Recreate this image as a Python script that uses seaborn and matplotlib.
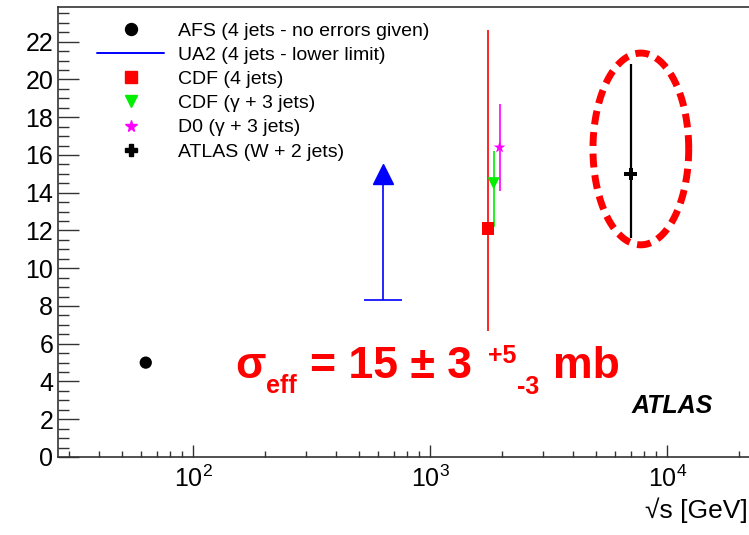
import numpy as np
import pandas as pd
import matplotlib
matplotlib.use("Agg")
import matplotlib.pyplot as plt
from matplotlib.lines import Line2D
import seaborn as sns

# ---- measurements of the effective cross section sigma_eff ----
labels = ["AFS (4 jets - no errors given)", "UA2 (4 jets - lower limit)", "CDF (4 jets)",
          "CDF (\u03b3 + 3 jets)", "D0 (\u03b3 + 3 jets)", "ATLAS (W + 2 jets)"]
sqrt_s = [63.0, 630.0, 1750.0, 1850.0, 1960.0, 7000.0]          # GeV
sigma = [5.0, 8.3, 12.1, 14.5, 16.4, 15.0]                     # mb
err_up = [0.0, 0.0, 10.5, 1.7, 2.3, 5.8]
err_down = [0.0, 0.0, 5.4, 2.3, 2.3, 3.4]
ua2_arrow_tip = 15.0                                            # arrow head of the UA2 limit
colors = ["black", "blue", "#ff0000", "#00ee00", "#ff00ff", "black"]
markers = ["o", "^", "s", "v", "*", "P"]

# ellipse around the ATLAS point (centre in GeV/mb, half axes in decades/mb)
ell_center = (7730.0, 16.32)
ell_half_decades = 0.202
ell_half_height = 5.08

W, H, DPI = 749, 535, 100
sns.set_theme(style="white")
plt.rcParams["font.family"] = ["Liberation Sans", "DejaVu Sans"]
plt.rcParams["mathtext.fontset"] = "custom"
plt.rcParams["mathtext.rm"] = "Liberation Sans"
plt.rcParams["text.color"] = "black"
plt.rcParams["xtick.bottom"] = True
plt.rcParams["ytick.left"] = True

fig = plt.figure(figsize=(W / DPI, H / DPI), dpi=DPI)
fig.patch.set_facecolor("white")
ax = fig.add_axes([58 / W, (H - 457) / H, (760 - 58) / W, 450 / H])
ax.set_facecolor("white")

df = pd.DataFrame({"sqrt_s": sqrt_s, "sigma": sigma, "label": labels,
                   "up": err_up, "down": err_down})

# error bars
for i, row in df.iterrows():
    if row["up"] > 0 or row["down"] > 0:
        ax.vlines(row["sqrt_s"], row["sigma"] - row["down"], row["sigma"] + row["up"],
                  colors=colors[i], linewidth=1.6 if i == 5 else 1.2, zorder=2)

# UA2 lower limit: bar at the limit plus an arrow
ua2 = 1
ax.vlines(sqrt_s[ua2], sigma[ua2], ua2_arrow_tip, colors="blue", linewidth=1.2, zorder=2)
ax.hlines(sigma[ua2], sqrt_s[ua2] / 1.2, sqrt_s[ua2] * 1.2, colors="blue", linewidth=1.2, zorder=2)
ax.plot([sqrt_s[ua2]], [ua2_arrow_tip], marker="^", markersize=14, color="blue",
        linestyle="none", zorder=3)

# measured points
pts = df.drop(index=ua2)
sns.scatterplot(data=pts, x="sqrt_s", y="sigma", hue="label", style="label",
                palette={l: c for l, c in zip(labels, colors)},
                markers={l: m for l, m in zip(labels, markers)},
                s=78, edgecolor="none", linewidth=0, legend=False, ax=ax, zorder=4)

# dashed ellipse highlighting the ATLAS result
t = np.linspace(0, 2 * np.pi, 400)
ex = 10 ** (np.log10(ell_center[0]) + ell_half_decades * np.cos(t))
ey = ell_center[1] + ell_half_height * np.sin(t)
ax.plot(ex, ey, color="#ff0000", linewidth=5.0, dashes=(2.0, 1.1),
        solid_capstyle="butt", dash_capstyle="butt", zorder=5)

# axes
ax.set_xscale("log")
ax.set_xlim(26.86, 24600)
ax.set_ylim(0, 23.84)
ax.set_yticks(np.arange(0, 23, 2))
ax.set_yticks(np.arange(0, 23.84, 0.5), minor=True)
ax.set_xticks([1e2, 1e3, 1e4])
ax.set_xticks([v * 10 ** d for d in range(1, 5) for v in range(2, 10)
               if 26.86 <= v * 10 ** d <= 24600], minor=True)
ax.set_xticklabels([r"$10^{2}$", r"$10^{3}$", r"$10^{4}$"])
ax.tick_params(axis="y", which="both", left=True, right=False)
ax.tick_params(axis="x", which="both", bottom=True, top=False)
ax.tick_params(axis="y", which="major", direction="in", length=15, width=1.0,
               color="#333333", labelsize=18, pad=3.5, labelcolor="black")
ax.tick_params(axis="y", which="minor", direction="in", length=7.6, width=1.0, color="#333333")
ax.tick_params(axis="x", which="major", direction="in", length=9, width=1.0,
               color="#333333", labelsize=18, pad=6, labelcolor="black")
ax.tick_params(axis="x", which="minor", direction="in", length=4.4, width=1.0, color="#333333")
for side in ["left", "bottom", "top"]:
    ax.spines[side].set_color("#333333")
    ax.spines[side].set_linewidth(1.2)
ax.spines["right"].set_visible(False)
ax.set_ylabel("")
ax.set_xlabel("\u221as [GeV]", fontsize=19, ha="right", va="top", color="black")
ax.xaxis.set_label_coords((748 - 58) / 702, -(497 - 457) / 450)

# legend
handles = [
    Line2D([], [], marker="o", color="black", linestyle="none", markersize=8.6),
    Line2D([], [], color="blue", linewidth=1.4),
    Line2D([], [], marker="s", color="#ff0000", linestyle="none", markersize=8.2),
    Line2D([], [], marker="v", color="#00ee00", linestyle="none", markersize=8.2),
    Line2D([], [], marker="*", color="#ff00ff", linestyle="none", markersize=8.5),
    Line2D([], [], marker="P", color="black", linestyle="none", markersize=8.5),
]
leg = fig.legend(handles, labels, loc="upper left", bbox_to_anchor=(97 / W, 1 - 22 / H),
                 frameon=False, fontsize=14, handlelength=3.45, handletextpad=0.72,
                 labelspacing=0.34, borderpad=0, borderaxespad=0)
for txt in leg.get_texts():
    txt.set_color("black")


def ftext(x, y, s, **kw):
    fig.text(x / W, 1 - y / H, s, va="baseline", ha="left", **kw)


red = "#ff0000"
ftext(235, 378, "\u03c3", fontsize=32, fontweight="bold", color=red)
ftext(266, 393, "eff", fontsize=18, fontweight="bold", color=red)
ftext(310, 378, "= 15 \u00b1 3", fontsize=32, fontweight="bold", color=red)
ftext(488, 363, "+5", fontsize=18, fontweight="bold", color=red)
ftext(517, 394, "-3", fontsize=18, fontweight="bold", color=red)
ftext(553, 378, "mb", fontsize=32, fontweight="bold", color=red)
ftext(632, 413, "ATLAS", fontsize=18, fontweight="bold", fontstyle="italic", color="black")

fig.savefig("out.png", dpi=DPI)
